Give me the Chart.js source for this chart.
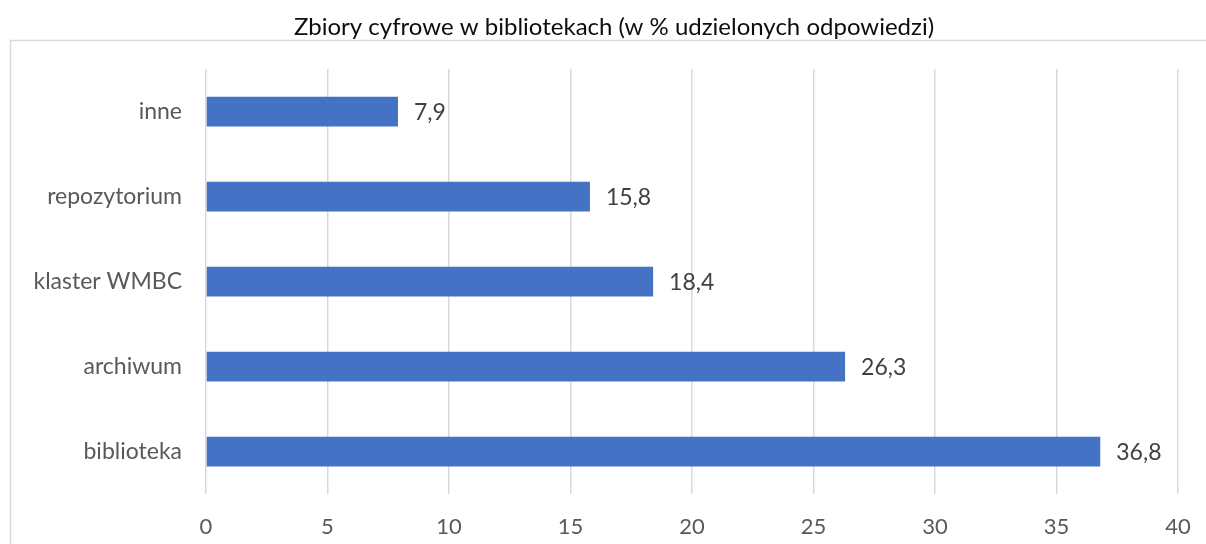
<!DOCTYPE html>
<html>
<head>
<meta charset="utf-8">
<script src="https://cdn.jsdelivr.net/npm/chart.js@4"></script>
<style>
    html, body { margin: 0; padding: 0; background: #fff; overflow: hidden; }
    #wrap { width: 1206px; height: 544px; position: relative; }
</style>
</head>
<body>
<div id="wrap"><canvas id="digitalCollectionsChart"></canvas></div>
<script>
const chartTitle = 'Zbiory cyfrowe w bibliotekach (w % udzielonych odpowiedzi)';
const categories = ['inne', 'repozytorium', 'klaster WMBC', 'archiwum', 'biblioteka'];
const shares = [7.9, 15.8, 18.4, 26.3, 36.8];
const axisTicks = [0, 5, 10, 15, 20, 25, 30, 35, 40];

const fontFamily = 'Lato, "Open Sans", sans-serif';

// frame + title drawn around the plot, plus value labels next to bars
const decorPlugin = {
    id: 'decor',
    beforeDraw(chart) {
        const ctx = chart.ctx;
        ctx.save();
        ctx.strokeStyle = '#d9d9d9';
        ctx.lineWidth = 1.5;
        ctx.strokeRect(10.5, 40.5, 1400, 700);
        ctx.fillStyle = '#0d0d0d';
        ctx.font = '24px ' + fontFamily;
        ctx.textAlign = 'center';
        ctx.textBaseline = 'middle';
        ctx.fillText(chartTitle, 614, 27);
        ctx.restore();
    },
    afterDatasetsDraw(chart) {
        const ctx = chart.ctx;
        const meta = chart.getDatasetMeta(0);
        ctx.save();
        ctx.fillStyle = '#404040';
        ctx.font = '23px ' + fontFamily;
        ctx.textAlign = 'left';
        ctx.textBaseline = 'middle';
        meta.data.forEach((bar, i) => {
            ctx.fillText(shares[i].toFixed(1).replace('.', ','), bar.x + 16, bar.y + 1);
        });
        ctx.restore();
    }
};

const ctx = document.getElementById('digitalCollectionsChart').getContext('2d');
const digitalCollectionsChart = new Chart(ctx, {
    type: 'bar',
    data: {
        labels: categories,
        datasets: [{
            data: shares,
            backgroundColor: '#4472c4',
            borderWidth: 0,
            categoryPercentage: 1,
            barPercentage: 0.35
        }]
    },
    options: {
        indexAxis: 'y',
        responsive: true,
        maintainAspectRatio: false,
        animation: false,
        layout: {
            padding: { top: 69, left: 0, right: 28, bottom: 0 }
        },
        plugins: {
            legend: { display: false },
            title: { display: false },
            tooltip: { enabled: false }
        },
        scales: {
            x: {
                min: 0,
                max: 40,
                afterBuildTicks: (scale) => {
                    scale.ticks = axisTicks.map(v => ({ value: v }));
                },
                afterFit: (scale) => {
                    scale.height = 50;
                    scale.paddingLeft = 0;
                    scale.paddingRight = 0;
                },
                grid: {
                    color: '#d9d9d9',
                    lineWidth: 1.5,
                    drawTicks: false
                },
                border: { display: false },
                ticks: {
                    padding: 20,
                    color: '#595959',
                    font: { family: fontFamily, size: 22 }
                }
            },
            y: {
                afterFit: (scale) => { scale.width = 206; },
                grid: { display: false },
                border: { display: false },
                ticks: {
                    padding: 16,
                    color: '#595959',
                    font: { family: fontFamily, size: 23 }
                }
            }
        }
    },
    plugins: [decorPlugin]
});
</script>
</body>
</html>
